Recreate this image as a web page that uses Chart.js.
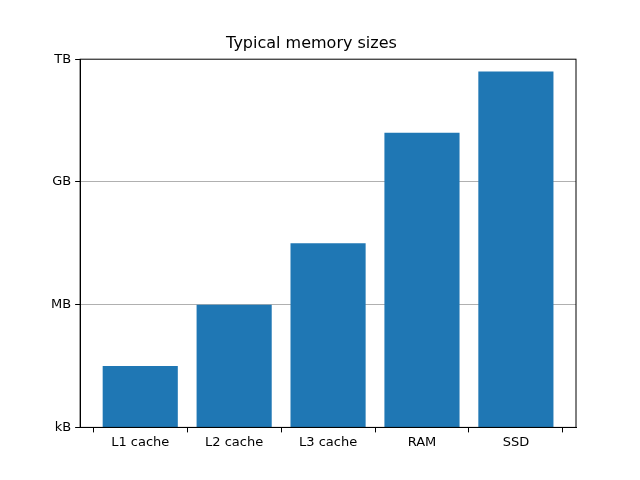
<!DOCTYPE html>
<html><head><script src="https://cdn.jsdelivr.net/npm/chart.js"></script>
<style>body{margin:0}#w{width:640px;height:480px}</style></head>
<body><div id="w"><canvas id="c"></canvas></div>
<script>
const categories=["L1 cache","L2 cache","L3 cache","RAM","SSD"];
const sizesBytes=[2**15,2**20,2**25,2**34,2**39];
const tickValues=[2**10,2**20,2**30,2**40];
const tickLabels=["kB","MB","GB","TB"];
const font={family:"DejaVu Sans",size:13};
new Chart(document.getElementById('c'),{
type:'bar',
data:{datasets:[{data:sizesBytes.map((v,i)=>({x:i,y:v})),backgroundColor:'#1f77b4',barPercentage:0.8,categoryPercentage:1}]},
options:{responsive:true,maintainAspectRatio:false,animation:false,
layout:{padding:{left:47,right:64,top:20,bottom:28}},
plugins:{legend:{display:false},tooltip:{enabled:false},
title:{display:true,text:'Typical memory sizes',color:'#000',font:{family:"DejaVu Sans",size:16,weight:'normal'},padding:{top:14,bottom:6}}},
scales:{
x:{type:'linear',min:-0.64,max:4.64,offset:false,
afterBuildTicks:a=>{a.ticks=categories.map((c,i)=>({value:i}));},
grid:{display:true,drawOnChartArea:false,color:'#000',tickLength:5},border:{color:'#000'},
ticks:{color:'#000',font,padding:2,autoSkip:false,callback:v=>categories[v]??''}},
y:{type:'logarithmic',min:2**10,max:2**40,
afterBuildTicks:a=>{a.ticks=tickValues.map(v=>({value:v}));},
grid:{color:c=>(c.tick&&(c.tick.value===2**20||c.tick.value===2**30))?'#b0b0b0':'rgba(0,0,0,0)',tickColor:'#000',tickLength:5},
border:{color:'#000'},
ticks:{color:'#000',font,padding:4,autoSkip:false,callback:(v)=>{const i=tickValues.indexOf(v);return i>=0?tickLabels[i]:'';}}}
}},
plugins:[{id:'box',afterDraw(ch){const a=ch.chartArea,x=ch.ctx;x.save();x.strokeStyle='#000';x.lineWidth=1;x.strokeRect(a.left,a.top,a.right-a.left,a.bottom-a.top);x.restore();}}]
});
</script></body></html>
